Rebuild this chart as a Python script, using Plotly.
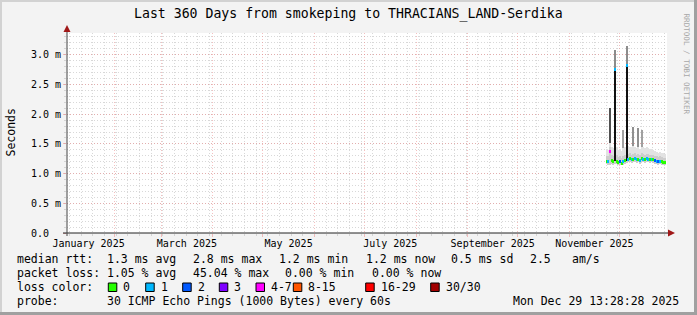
import plotly.graph_objects as go
import pandas as pd

# ---------------- data ----------------
T0 = "2025-01-03 13:28:28"
T1 = "2025-12-29 13:28:28"

days = [d.strftime("%Y-%m-%d 12:00") for d in pd.date_range("2025-11-23", "2025-12-28", freq="D")]

median_ms = [1.21, 1.20, 1.38, 1.22, 1.20, 2.75, 1.21, 1.18, 1.20, 1.17, 1.20, 1.22,
             2.82, 1.24, 1.25, 1.23, 1.24, 1.25, 1.23, 1.24, 1.22, 1.25, 1.24, 1.23,
             1.25, 1.24, 1.23, 1.24, 1.23, 1.22, 1.21, 1.20, 1.21, 1.20, 1.19, 1.19]
loss_idx = [0, 1, 4, 0, 0, 1, 0, 0, 2, 0, 1, 0, 1, 1, 0, 1, 0, 1, 1, 0, 1, 0, 1, 0,
            1, 1, 0, 1, 0, 2, 1, 2, 1, 0, 0, 0]
smoke_lo = [1.16, 1.15, 1.15, 1.16, 1.15, 1.17, 1.16, 1.14, 1.15, 1.14, 1.15, 1.17,
            1.18, 1.19, 1.19, 1.18, 1.19, 1.19, 1.18, 1.19, 1.17, 1.19, 1.19, 1.18,
            1.19, 1.19, 1.18, 1.19, 1.18, 1.17, 1.16, 1.15, 1.16, 1.15, 1.15, 1.15]
smoke_mid = [1.30, 1.29, 1.45, 1.31, 1.30, 1.33, 1.31, 1.28, 1.30, 1.27, 1.30, 1.31,
             1.34, 1.33, 1.34, 1.32, 1.33, 1.34, 1.32, 1.33, 1.31, 1.34, 1.33, 1.32,
             1.33, 1.33, 1.31, 1.32, 1.31, 1.30, 1.29, 1.28, 1.29, 1.28, 1.27, 1.27]
smoke_hi = [1.42, 1.40, 1.52, 1.45, 1.43, 1.48, 1.44, 1.40, 1.42, 1.38, 1.43, 1.45,
            1.47, 1.46, 1.45, 1.44, 1.46, 1.45, 1.43, 1.44, 1.42, 1.45, 1.44, 1.43,
            1.44, 1.43, 1.41, 1.42, 1.40, 1.38, 1.36, 1.35, 1.36, 1.35, 1.34, 1.33]

spike_days = ["2025-11-25 12:00", "2025-11-28 12:00", "2025-12-03 12:00", "2025-12-05 12:00",
              "2025-12-09 12:00", "2025-12-12 12:00", "2025-12-14 12:00"]
spike_top = [2.10, 3.08, 1.73, 3.14, 1.79, 1.77, 1.73]
spike_base = [1.30, 1.30, 1.30, 1.30, 1.30, 1.30, 1.30]
spike_col = ["#505050", "#8c8c8c", "#a0a0a0", "#8c8c8c", "#909090", "#909090", "#a0a0a0"]

dense_days = ["2025-11-28 12:00", "2025-12-05 12:00"]
dense_top = [2.75, 2.82]
dense_base = [1.22, 1.22]

loss_labels = ["0", "1", "2", "3", "4-7", "8-15", "16-29", "30/30"]
loss_colors = ["#26ff00", "#00b8ff", "#0059ff", "#7e00ff", "#ff00ff", "#ff5500", "#ff0000", "#a10000"]

month_label_dates = ["2025-01-16 12:00", "2025-03-16 12:00", "2025-05-16 12:00",
                     "2025-07-16 12:00", "2025-09-16 00:00", "2025-11-16 00:00"]
month_labels = ["January 2025", "March 2025", "May 2025", "July 2025",
                "September 2025", "November 2025"]

y_tickvals = [0, 0.5, 1.0, 1.5, 2.0, 2.5, 3.0]
y_ticktext = ["0.0\u00a0\u00a0", "0.5 m", "1.0 m", "1.5 m", "2.0 m", "2.5 m", "3.0 m"]

legend_rows = [
    [("median rtt:", 16.7), ("1.3 ms avg", 107.3), ("2.8 ms max", 193.3), ("1.2 ms min", 279.3),
     ("1.2 ms now", 366), ("0.5 ms sd", 451), ("2.5", 530), ("am/s", 572.3)],
    [("packet loss:", 16.7), ("1.05 % avg", 107.3), ("45.04 % max", 193.3),
     ("0.00 % min", 285), ("0.00 % now", 372.3)],
    [("loss color:", 16.7)],
    [("probe:", 16.7), ("30 ICMP Echo Pings (1000 Bytes) every 60s", 107.3),
     ("Mon Dec 29 13:28:28 2025", 513.3)],
]
legend_row_y = [259, 273, 287, 301]
box_x = [108.3, 145.7, 182.7, 219.3, 256, 293.3, 365.7, 430.7]

# ---------------- layout helpers ----------------
W, H = 697, 315
L, R, T, B = 67, 30, 33, 82
PW, PH = W - L - R, H - T - B
FONT = "DejaVu Sans Mono"
RED = "rgba(235,140,140,0.55)"
GREY = "rgba(190,190,190,0.6)"
DAY = 86400000
TXT_PAD = 2  # annotation inner padding (borderpad + borderwidth)


def px(x):
    return (x - L) / PW


def py(y):
    return (H - B - y) / PH


fig = go.Figure()

fig.add_trace(go.Bar(x=spike_days, y=[t - b for t, b in zip(spike_top, spike_base)], base=spike_base,
                     width=DAY * 0.8, marker=dict(color=spike_col, line=dict(width=0)), hoverinfo="skip"))
fig.add_trace(go.Bar(x=days, y=[h - l for h, l in zip(smoke_hi, smoke_lo)], base=smoke_lo,
                     width=DAY, marker=dict(color="#e2e2e2", line=dict(width=0)), hoverinfo="skip"))
fig.add_trace(go.Bar(x=days, y=[m - l for m, l in zip(smoke_mid, smoke_lo)], base=smoke_lo,
                     width=DAY, marker=dict(color="#cdcdcd", line=dict(width=0)), hoverinfo="skip"))
fig.add_trace(go.Bar(x=dense_days, y=[t - b for t, b in zip(dense_top, dense_base)], base=dense_base,
                     width=DAY * 1.2, marker=dict(color="#111111", line=dict(width=0)), hoverinfo="skip"))
fig.add_trace(go.Bar(x=days, y=[0.05] * len(days), base=[m - 0.025 for m in median_ms],
                     width=DAY, marker=dict(color=[loss_colors[i] for i in loss_idx], line=dict(width=0)),
                     hoverinfo="skip"))
fig.add_trace(go.Scatter(x=[T0], y=[0], xaxis="x2", mode="markers",
                         marker=dict(opacity=0), hoverinfo="skip"))

fig.update_layout(
    width=W, height=H,
    margin=dict(l=L, r=R, t=T, b=B, pad=0),
    paper_bgcolor="#f3f3f3", plot_bgcolor="#ffffff",
    barmode="overlay", bargap=0, showlegend=False,
    font=dict(family=FONT, size=10, color="#000000"),
    xaxis=dict(
        type="date", range=[T0, T1], tickmode="linear", tick0="2025-01-01", dtick="M1",
        showticklabels=False, ticks="outside", ticklen=3, tickcolor=RED,
        showgrid=True, gridcolor=RED, griddash="1px,2px", gridwidth=1,
        zeroline=False, showline=False,
        minor=dict(tickmode="linear", tick0="2025-01-05", dtick=7 * DAY, showgrid=True,
                   gridcolor=GREY, griddash="1px,2px", ticks="outside", ticklen=2, tickcolor=GREY),
    ),
    xaxis2=dict(
        type="date", range=[T0, T1], overlaying="x", anchor="y", side="bottom",
        tickmode="array", tickvals=month_label_dates, ticktext=month_labels,
        showgrid=False, ticks="", zeroline=False, showline=False, ticklabelstandoff=3,
        tickfont=dict(family=FONT, size=10, color="#000"),
    ),
    yaxis=dict(
        range=[0, 3.367], tickmode="array", tickvals=y_tickvals, ticktext=y_ticktext,
        showgrid=True, gridcolor=RED, griddash="1px,2px", gridwidth=1,
        ticks="outside", ticklen=3, tickcolor=RED, zeroline=False, showline=False,
        tickfont=dict(family=FONT, size=10, color="#000"),
        minor=dict(tickmode="linear", tick0=0, dtick=0.1, showgrid=True, gridcolor=GREY,
                   griddash="1px,2px", ticks="outside", ticklen=2, tickcolor=GREY),
    ),
)

shapes = []
shapes.append(dict(type="rect", xref="paper", yref="paper", x0=px(0), x1=px(2), y0=py(0), y1=py(H),
                   fillcolor="#d2d2d2", line=dict(width=0), layer="above"))
shapes.append(dict(type="rect", xref="paper", yref="paper", x0=px(0), x1=px(W), y0=py(0), y1=py(2),
                   fillcolor="#d2d2d2", line=dict(width=0), layer="above"))
shapes.append(dict(type="rect", xref="paper", yref="paper", x0=px(W - 3), x1=px(W), y0=py(0), y1=py(H),
                   fillcolor="#a0a0a0", line=dict(width=0), layer="above"))
shapes.append(dict(type="rect", xref="paper", yref="paper", x0=px(0), x1=px(W), y0=py(H - 3), y1=py(H),
                   fillcolor="#a0a0a0", line=dict(width=0), layer="above"))
shapes.append(dict(type="line", xref="paper", yref="paper", x0=px(63), x1=px(670), y0=0, y1=0,
                   line=dict(color="#222222", width=1), layer="above"))
shapes.append(dict(type="line", xref="paper", yref="paper", x0=0, x1=0, y0=py(236), y1=py(30),
                   line=dict(color="#444444", width=1), layer="above"))
shapes.append(dict(type="path", xref="paper", yref="paper",
                   path=f"M {px(668)} {py(229.5)} L {px(668)} {py(236.5)} L {px(675)} {py(233)} Z",
                   fillcolor="#a01818", line=dict(width=0), layer="above"))
shapes.append(dict(type="path", xref="paper", yref="paper",
                   path=f"M {px(63.5)} {py(32)} L {px(70.5)} {py(32)} L {px(67)} {py(25)} Z",
                   fillcolor="#a01818", line=dict(width=0), layer="above"))
for bx, c in zip(box_x, loss_colors):
    shapes.append(dict(type="rect", xref="paper", yref="paper", x0=px(bx), x1=px(bx + 8.5),
                       y0=py(291.5), y1=py(283), fillcolor=c, line=dict(color="#000000", width=1),
                       layer="above"))
fig.update_layout(shapes=shapes)

ann = []
ann.append(dict(text="Last 360 Days from smokeping to THRACIANS_LAND-Serdika", x=px(348), y=py(14),
                xref="paper", yref="paper", showarrow=False, xanchor="center", yanchor="middle",
                font=dict(family=FONT, size=13.2, color="#000")))
ann.append(dict(text="Seconds", x=px(10.5), y=py(133), xref="paper", yref="paper", showarrow=False,
                xanchor="center", yanchor="middle", textangle=-90,
                font=dict(family=FONT, size=11.5, color="#000")))
ann.append(dict(text="RRDTOOL / TOBI OETIKER", x=px(686.5), y=py(64), xref="paper", yref="paper",
                showarrow=False, xanchor="center", yanchor="middle", textangle=90,
                font=dict(family=FONT, size=7.6, color="#a8a8a8")))
for row, yy in zip(legend_rows, legend_row_y):
    for txt, xx in row:
        ann.append(dict(text=txt, x=px(xx - TXT_PAD), y=py(yy), xref="paper", yref="paper", showarrow=False,
                        xanchor="left", yanchor="middle", font=dict(family=FONT, size=11.5, color="#000")))
for bx, lab in zip(box_x, loss_labels):
    ann.append(dict(text=lab, x=px(bx + 15 - TXT_PAD), y=py(287), xref="paper", yref="paper",
                    showarrow=False, xanchor="left", yanchor="middle",
                    font=dict(family=FONT, size=11.5, color="#000")))
fig.update_layout(annotations=ann)

fig.write_html("out.html")
